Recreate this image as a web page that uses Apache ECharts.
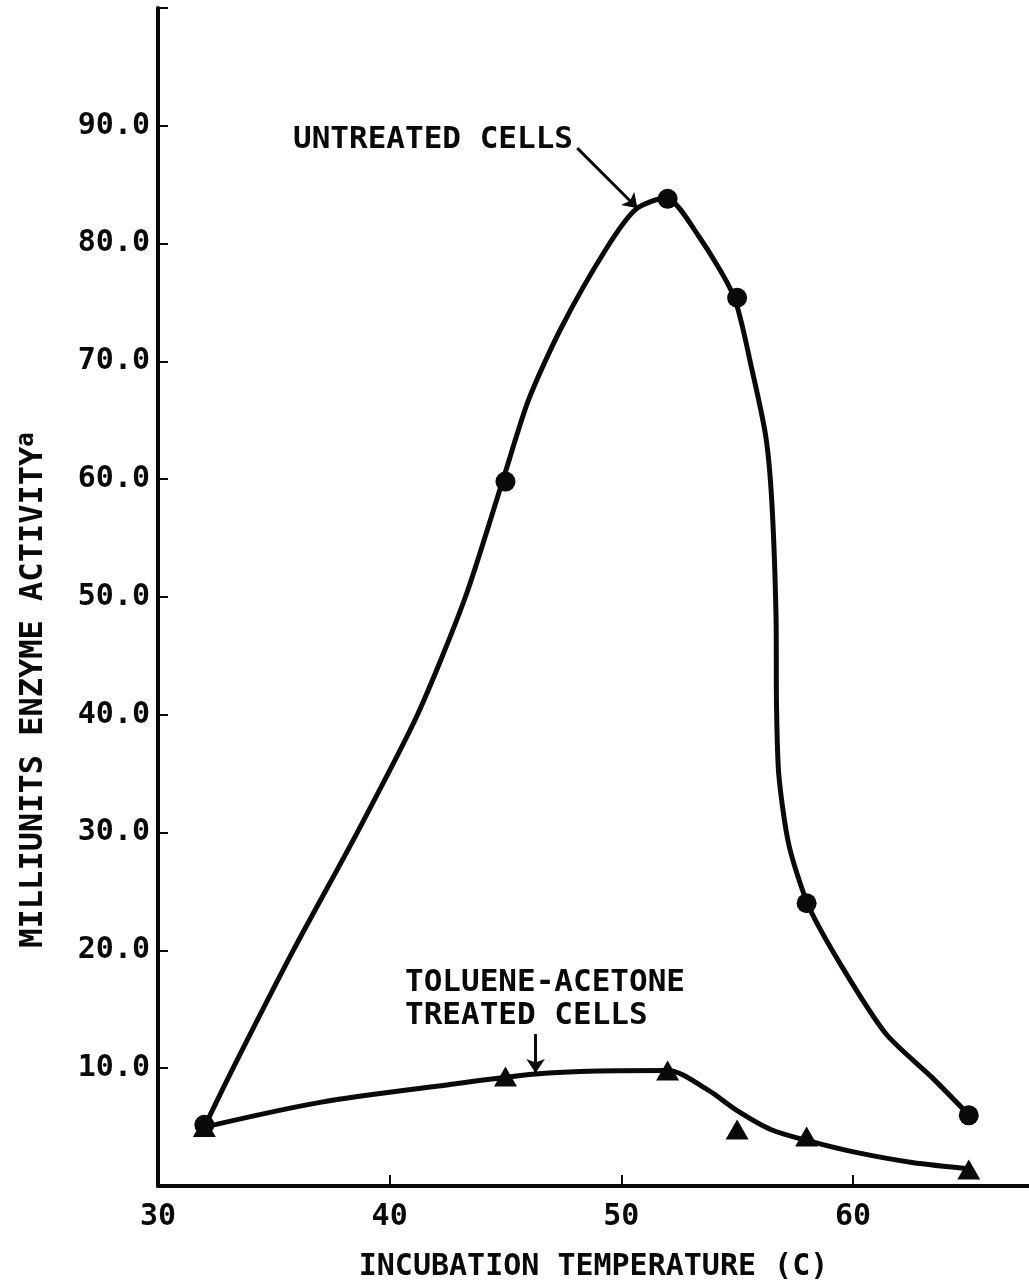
<!DOCTYPE html>
<html>
<head>
<meta charset="utf-8">
<title>Enzyme activity vs incubation temperature</title>
<script src="https://cdn.jsdelivr.net/npm/echarts@6/dist/echarts.min.js"></script>
<style>
  html, body { margin: 0; padding: 0; background: #fff; }
  #main { width: 1029px; height: 1287px; }
</style>
</head>
<body>
<div id="main"></div>
<script>
// measured points (temperature C, milliunits)
var untreatedPts = [[32, 5.2], [45, 59.8], [52, 83.8], [55, 75.4], [58, 24.0], [65, 6.0]];
var treatedPts = [[32, 5.0], [45, 9.3], [52, 9.8], [55, 4.8], [58, 4.2], [65, 1.4]];

// hand drawn fit curves
var untreatedCurve = [
  [32, 5], [33.24, 10], [35.84, 20], [38.6, 30], [41.2, 40], [43.27, 50], [44.9, 60],
  [46.0, 66.75], [47.42, 72.9], [49.33, 79.5], [50.62, 82.9], [51.92, 83.9],
  [53.35, 80.6], [54.86, 75.5], [55.64, 69.3], [56.24, 63.6], [56.5, 58.0],
  [56.68, 48.3], [56.7, 40.9], [56.8, 34.9], [57.24, 28.9], [58.1, 23.7],
  [59.53, 18.6], [61.43, 12.9], [63.42, 9.2], [65.02, 6.0]
];
var treatedCurve = [
  [32, 5], [37, 7.1], [42.55, 8.6], [46.3, 9.5], [49, 9.76], [52, 9.8], [53.7, 8.2],
  [55, 6.4], [56.45, 4.8], [58.05, 3.85], [60.13, 2.85], [62.55, 2.0], [65.1, 1.45]
];

var xTicks = [30, 40, 50, 60];
var yTicks = [10, 20, 30, 40, 50, 60, 70, 80, 90];

var FONT = '"DejaVu Sans Mono", monospace';
var INK = '#0a0a0a';

var chart = echarts.init(document.getElementById('main'));

var option = {
  backgroundColor: '#fff',
  animation: false,
  grid: { left: 158, right: 0, top: 8, bottom: 100 },
  xAxis: {
    type: 'value',
    min: 30,
    max: 67.6,
    interval: 10,
    name: 'INCUBATION TEMPERATURE (C)',
    nameLocation: 'middle',
    nameGap: 66,
    nameTextStyle: { fontFamily: FONT, fontWeight: 'bold', fontSize: 30, color: INK },
    axisLine: { lineStyle: { color: INK, width: 4 } },
    axisTick: { inside: true, length: 11, lineStyle: { color: INK, width: 2 } },
    axisLabel: {
      margin: 16,
      fontFamily: FONT, fontWeight: 'bold', fontSize: 30, color: INK,
      showMaxLabel: false,
      formatter: function (v) { return xTicks.indexOf(v) >= 0 ? String(v) : ''; }
    },
    splitLine: { show: false }
  },
  yAxis: {
    type: 'value',
    min: 0,
    max: 100,
    interval: 10,
    axisLine: { lineStyle: { color: INK, width: 4 } },
    axisTick: { inside: true, length: 10, lineStyle: { color: INK, width: 2 } },
    axisLabel: {
      margin: 8,
      fontFamily: FONT, fontWeight: 'bold', fontSize: 30, color: INK,
      formatter: function (v) { return yTicks.indexOf(v) >= 0 ? v.toFixed(1) : ''; }
    },
    splitLine: { show: false }
  },
  graphic: [
    {
      type: 'text',
      x: 34, y: 690,
      rotation: Math.PI / 2,
      style: {
        text: 'MILLIUNITS ENZYME ACTIVITY{s|a}',
        fontFamily: FONT, fontWeight: 'bold', fontSize: 32, fill: INK,
        align: 'center', verticalAlign: 'middle',
        rich: { s: { fontFamily: FONT, fontWeight: 'bold', fontSize: 24, fill: INK, verticalAlign: 'top', padding: [0, 0, 14, 0] } }
      }
    },
    {
      type: 'text', left: 293, top: 124,
      style: { text: 'UNTREATED CELLS', fontFamily: FONT, fontWeight: 'bold', fontSize: 31, fill: INK }
    },
    {
      type: 'text', left: 405, top: 966,
      style: { text: 'TOLUENE-ACETONE\nTREATED CELLS', fontFamily: FONT, fontWeight: 'bold', fontSize: 31, lineHeight: 33, fill: INK }
    }
  ],
  series: [
    {
      name: 'untreated fit',
      type: 'line',
      data: untreatedCurve,
      smooth: 0.25,
      showSymbol: false,
      lineStyle: { color: INK, width: 5 },
      z: 2,
      markLine: {
        silent: true,
        symbol: ['none', 'arrow'],
        symbolSize: 14,
        label: { show: false },
        lineStyle: { color: INK, width: 3, type: 'solid' },
        data: [
          [{ coord: [48.1, 88.1] }, { coord: [50.7, 83.0] }],
          [{ coord: [46.3, 12.9] }, { coord: [46.3, 9.6] }]
        ]
      }
    },
    {
      name: 'treated fit',
      type: 'line',
      data: treatedCurve,
      smooth: 0.3,
      showSymbol: false,
      lineStyle: { color: INK, width: 5 },
      z: 2
    },
    {
      name: 'UNTREATED CELLS',
      type: 'scatter',
      data: untreatedPts,
      symbol: 'circle',
      symbolSize: 20,
      itemStyle: { color: INK, opacity: 1 },
      z: 3
    },
    {
      name: 'TOLUENE-ACETONE TREATED CELLS',
      type: 'scatter',
      data: treatedPts,
      symbol: 'triangle',
      symbolSize: [23, 20],
      itemStyle: { color: INK, opacity: 1 },
      z: 3
    }
  ]
};

chart.setOption(option);
</script>
</body>
</html>
